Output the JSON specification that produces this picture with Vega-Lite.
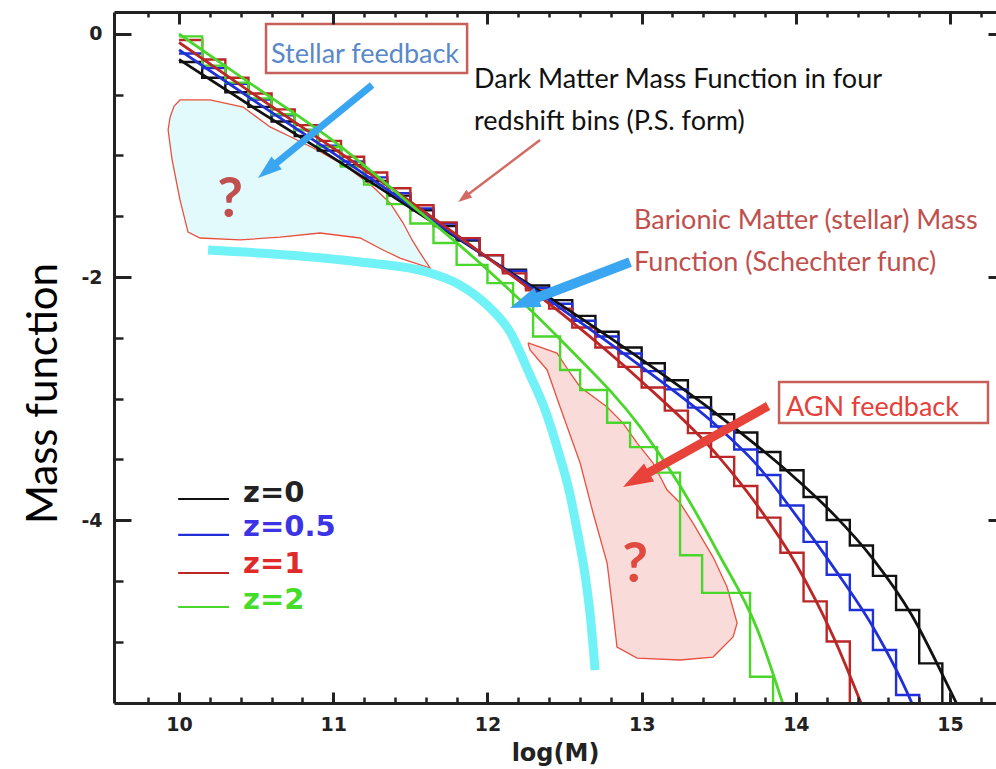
{
"$schema":"https://vega.github.io/schema/vega-lite/v6.json",
"width":882,"height":691,"autosize":"none",
"padding":{"left":114,"top":12,"right":0,"bottom":66},
"background":"#ffffff",
"config":{"view":{"stroke":null},"axis":{"grid":false}},
"datasets":{
"stellar":[{"i":0,"x":9.942,"y":-0.683},{"i":1,"x":9.968,"y":-0.593},{"i":2,"x":10.006,"y":-0.543},{"i":3,"x":10.201,"y":-0.543},{"i":4,"x":10.415,"y":-0.601},{"i":5,"x":10.59,"y":-0.765},{"i":6,"x":10.739,"y":-0.856},{"i":7,"x":10.895,"y":-0.955},{"i":8,"x":11.089,"y":-1.095},{"i":9,"x":11.258,"y":-1.259},{"i":10,"x":11.368,"y":-1.391},{"i":11,"x":11.453,"y":-1.556},{"i":12,"x":11.511,"y":-1.695},{"i":13,"x":11.563,"y":-1.802},{"i":14,"x":11.628,"y":-1.926},{"i":15,"x":11.433,"y":-1.844},{"i":16,"x":11.323,"y":-1.778},{"i":17,"x":11.174,"y":-1.679},{"i":18,"x":10.914,"y":-1.638},{"i":19,"x":10.655,"y":-1.671},{"i":20,"x":10.396,"y":-1.695},{"i":21,"x":10.136,"y":-1.679},{"i":22,"x":10.058,"y":-1.63},{"i":23,"x":10.006,"y":-1.366},{"i":24,"x":9.955,"y":-1.037},{"i":25,"x":9.929,"y":-0.79},{"i":26,"x":9.942,"y":-0.683}],
"agn":[{"i":0,"x":12.263,"y":-2.543},{"i":1,"x":12.451,"y":-2.626},{"i":2,"x":12.536,"y":-2.79},{"i":3,"x":12.601,"y":-2.905},{"i":4,"x":12.776,"y":-3.07},{"i":5,"x":12.879,"y":-3.202},{"i":6,"x":12.97,"y":-3.366},{"i":7,"x":13.074,"y":-3.531},{"i":8,"x":13.165,"y":-3.753},{"i":9,"x":13.249,"y":-3.86},{"i":10,"x":13.333,"y":-4.025},{"i":11,"x":13.463,"y":-4.305},{"i":12,"x":13.554,"y":-4.551},{"i":13,"x":13.619,"y":-4.848},{"i":14,"x":13.593,"y":-4.963},{"i":15,"x":13.463,"y":-5.128},{"i":16,"x":13.249,"y":-5.152},{"i":17,"x":12.97,"y":-5.136},{"i":18,"x":12.84,"y":-5.045},{"i":19,"x":12.815,"y":-4.765},{"i":20,"x":12.776,"y":-4.354},{"i":21,"x":12.685,"y":-3.942},{"i":22,"x":12.601,"y":-3.531},{"i":23,"x":12.471,"y":-3.07},{"i":24,"x":12.387,"y":-2.765},{"i":25,"x":12.276,"y":-2.601},{"i":26,"x":12.263,"y":-2.543}],
"cyan":[{"x":10.188,"y":-1.778},{"x":10.785,"y":-1.827},{"x":11.174,"y":-1.877},{"x":11.608,"y":-1.959},{"x":11.822,"y":-2.066},{"x":11.997,"y":-2.23},{"x":12.147,"y":-2.453},{"x":12.276,"y":-2.807},{"x":12.374,"y":-3.095},{"x":12.451,"y":-3.399},{"x":12.536,"y":-3.794},{"x":12.581,"y":-4.082},{"x":12.633,"y":-4.453},{"x":12.665,"y":-4.765},{"x":12.698,"y":-5.235}],
"curves":[
{"s":"z0","x":10.0,"y":-0.21},{"s":"z0","x":10.5,"y":-0.62},{"s":"z0","x":11.0,"y":-1.02},{"s":"z0","x":11.5,"y":-1.43},{"s":"z0","x":12.0,"y":-1.84},{"s":"z0","x":12.5,"y":-2.25},{"s":"z0","x":13.0,"y":-2.68},{"s":"z0","x":13.5,"y":-3.14},{"s":"z0","x":14.0,"y":-3.66},{"s":"z0","x":14.25,"y":-3.96},{"s":"z0","x":14.5,"y":-4.32},{"s":"z0","x":14.75,"y":-4.78},{"s":"z0","x":15.0,"y":-5.4},{"s":"z0","x":15.05,"y":-5.53},
{"s":"z05","x":10.0,"y":-0.13},{"s":"z05","x":10.5,"y":-0.56},{"s":"z05","x":11.0,"y":-0.98},{"s":"z05","x":11.5,"y":-1.41},{"s":"z05","x":12.0,"y":-1.84},{"s":"z05","x":12.5,"y":-2.28},{"s":"z05","x":13.0,"y":-2.74},{"s":"z05","x":13.5,"y":-3.24},{"s":"z05","x":13.75,"y":-3.55},{"s":"z05","x":14.0,"y":-3.96},{"s":"z05","x":14.25,"y":-4.4},{"s":"z05","x":14.5,"y":-4.88},{"s":"z05","x":14.75,"y":-5.5},{"s":"z05","x":14.76,"y":-5.53},
{"s":"z1","x":10.0,"y":-0.07},{"s":"z1","x":10.5,"y":-0.51},{"s":"z1","x":11.0,"y":-0.94},{"s":"z1","x":11.5,"y":-1.38},{"s":"z1","x":12.0,"y":-1.84},{"s":"z1","x":12.5,"y":-2.32},{"s":"z1","x":13.0,"y":-2.86},{"s":"z1","x":13.5,"y":-3.48},{"s":"z1","x":13.75,"y":-3.88},{"s":"z1","x":14.0,"y":-4.36},{"s":"z1","x":14.25,"y":-4.98},{"s":"z1","x":14.43,"y":-5.53},
{"s":"z2","x":10.0,"y":0.0},{"s":"z2","x":10.5,"y":-0.44},{"s":"z2","x":11.0,"y":-0.88},{"s":"z2","x":11.5,"y":-1.4},{"s":"z2","x":12.0,"y":-1.94},{"s":"z2","x":12.5,"y":-2.55},{"s":"z2","x":13.0,"y":-3.25},{"s":"z2","x":13.25,"y":-3.72},{"s":"z2","x":13.5,"y":-4.28},{"s":"z2","x":13.75,"y":-4.9},{"s":"z2","x":13.92,"y":-5.53}
],
"hist":[
{"s":"z0","x":10.0,"y":-0.23},{"s":"z0","x":10.15,"y":-0.36},{"s":"z0","x":10.3,"y":-0.48},{"s":"z0","x":10.45,"y":-0.6},{"s":"z0","x":10.6,"y":-0.72},{"s":"z0","x":10.75,"y":-0.84},{"s":"z0","x":10.9,"y":-0.96},{"s":"z0","x":11.05,"y":-1.08},{"s":"z0","x":11.2,"y":-1.21},{"s":"z0","x":11.35,"y":-1.33},{"s":"z0","x":11.5,"y":-1.45},{"s":"z0","x":11.65,"y":-1.58},{"s":"z0","x":11.8,"y":-1.7},{"s":"z0","x":11.95,"y":-1.82},{"s":"z0","x":12.1,"y":-1.94},{"s":"z0","x":12.25,"y":-2.07},{"s":"z0","x":12.4,"y":-2.19},{"s":"z0","x":12.55,"y":-2.32},{"s":"z0","x":12.7,"y":-2.45},{"s":"z0","x":12.85,"y":-2.58},{"s":"z0","x":13.0,"y":-2.71},{"s":"z0","x":13.15,"y":-2.85},{"s":"z0","x":13.3,"y":-2.99},{"s":"z0","x":13.45,"y":-3.13},{"s":"z0","x":13.6,"y":-3.28},{"s":"z0","x":13.75,"y":-3.44},{"s":"z0","x":13.9,"y":-3.59},{"s":"z0","x":14.05,"y":-3.81},{"s":"z0","x":14.2,"y":-4.0},{"s":"z0","x":14.35,"y":-4.21},{"s":"z0","x":14.5,"y":-4.46},{"s":"z0","x":14.65,"y":-4.74},{"s":"z0","x":14.8,"y":-5.18},{"s":"z0","x":14.95,"y":-6.0},
{"s":"z05","x":10.0,"y":-0.16},{"s":"z05","x":10.15,"y":-0.28},{"s":"z05","x":10.3,"y":-0.41},{"s":"z05","x":10.45,"y":-0.54},{"s":"z05","x":10.6,"y":-0.67},{"s":"z05","x":10.75,"y":-0.79},{"s":"z05","x":10.9,"y":-0.92},{"s":"z05","x":11.05,"y":-1.05},{"s":"z05","x":11.2,"y":-1.18},{"s":"z05","x":11.35,"y":-1.31},{"s":"z05","x":11.5,"y":-1.435},{"s":"z05","x":11.65,"y":-1.56},{"s":"z05","x":11.8,"y":-1.69},{"s":"z05","x":11.95,"y":-1.82},{"s":"z05","x":12.1,"y":-1.95},{"s":"z05","x":12.25,"y":-2.09},{"s":"z05","x":12.4,"y":-2.22},{"s":"z05","x":12.55,"y":-2.36},{"s":"z05","x":12.7,"y":-2.49},{"s":"z05","x":12.85,"y":-2.63},{"s":"z05","x":13.0,"y":-2.775},{"s":"z05","x":13.15,"y":-2.925},{"s":"z05","x":13.3,"y":-3.075},{"s":"z05","x":13.45,"y":-3.23},{"s":"z05","x":13.6,"y":-3.42},{"s":"z05","x":13.75,"y":-3.63},{"s":"z05","x":13.9,"y":-3.88},{"s":"z05","x":14.05,"y":-4.18},{"s":"z05","x":14.2,"y":-4.45},{"s":"z05","x":14.35,"y":-4.74},{"s":"z05","x":14.5,"y":-5.07},{"s":"z05","x":14.65,"y":-5.44},{"s":"z05","x":14.8,"y":-6.0},
{"s":"z1","x":10.0,"y":-0.05},{"s":"z1","x":10.15,"y":-0.21},{"s":"z1","x":10.3,"y":-0.36},{"s":"z1","x":10.45,"y":-0.49},{"s":"z1","x":10.6,"y":-0.62},{"s":"z1","x":10.75,"y":-0.75},{"s":"z1","x":10.9,"y":-0.88},{"s":"z1","x":11.05,"y":-1.01},{"s":"z1","x":11.2,"y":-1.14},{"s":"z1","x":11.35,"y":-1.27},{"s":"z1","x":11.5,"y":-1.41},{"s":"z1","x":11.65,"y":-1.55},{"s":"z1","x":11.8,"y":-1.68},{"s":"z1","x":11.95,"y":-1.82},{"s":"z1","x":12.1,"y":-1.97},{"s":"z1","x":12.25,"y":-2.11},{"s":"z1","x":12.4,"y":-2.26},{"s":"z1","x":12.55,"y":-2.415},{"s":"z1","x":12.7,"y":-2.58},{"s":"z1","x":12.85,"y":-2.74},{"s":"z1","x":13.0,"y":-2.91},{"s":"z1","x":13.15,"y":-3.1},{"s":"z1","x":13.3,"y":-3.285},{"s":"z1","x":13.45,"y":-3.48},{"s":"z1","x":13.6,"y":-3.72},{"s":"z1","x":13.75,"y":-3.98},{"s":"z1","x":13.9,"y":-4.27},{"s":"z1","x":14.05,"y":-4.67},{"s":"z1","x":14.2,"y":-5.0},{"s":"z1","x":14.35,"y":-6.0},
{"s":"z2","x":10.0,"y":-0.02},{"s":"z2","x":10.15,"y":-0.26},{"s":"z2","x":10.3,"y":-0.4},{"s":"z2","x":10.45,"y":-0.53},{"s":"z2","x":10.6,"y":-0.66},{"s":"z2","x":10.75,"y":-0.79},{"s":"z2","x":10.9,"y":-0.93},{"s":"z2","x":11.05,"y":-1.09},{"s":"z2","x":11.2,"y":-1.24},{"s":"z2","x":11.35,"y":-1.4},{"s":"z2","x":11.5,"y":-1.56},{"s":"z2","x":11.65,"y":-1.72},{"s":"z2","x":11.8,"y":-1.9},{"s":"z2","x":12.0,"y":-2.05},{"s":"z2","x":12.166,"y":-2.23},{"s":"z2","x":12.296,"y":-2.49},{"s":"z2","x":12.471,"y":-2.765},{"s":"z2","x":12.601,"y":-2.93},{"s":"z2","x":12.776,"y":-3.2},{"s":"z2","x":12.925,"y":-3.4},{"s":"z2","x":13.1,"y":-3.61},{"s":"z2","x":13.249,"y":-4.29},{"s":"z2","x":13.392,"y":-4.6},{"s":"z2","x":13.703,"y":-5.29},{"s":"z2","x":13.852,"y":-6.0}
],
"legend":[{"s":"z0","t":"z=0","x":9.994,"x2":10.324,"y":-3.827,"tx":10.415,"ty":-3.778},{"s":"z05","t":"z=0.5","x":9.994,"x2":10.324,"y":-4.123,"tx":10.415,"ty":-4.058},{"s":"z1","t":"z=1","x":9.994,"x2":10.324,"y":-4.436,"tx":10.415,"ty":-4.362},{"s":"z2","t":"z=2","x":9.994,"x2":10.324,"y":-4.716,"tx":10.415,"ty":-4.658}]
},
"layer":[
{"data":{"name":"stellar"},"mark":{"type":"line","fill":"#e2fafc","stroke":"#e8503f","strokeWidth":1.3,"clip":true},
 "encoding":{"x":{"field":"x","type":"quantitative","scale":{"domain":[9.578,15.298],"nice":false,"zero":false},"axis":null},"y":{"field":"y","type":"quantitative","scale":{"domain":[-5.506,0.181],"nice":false,"zero":false},"axis":null},"order":{"field":"i","type":"quantitative"}}},
{"data":{"name":"agn"},"mark":{"type":"line","fill":"#f9dcda","stroke":"#e8503f","strokeWidth":1.3,"clip":true},
 "encoding":{"x":{"field":"x","type":"quantitative","scale":{"domain":[9.578,15.298],"nice":false,"zero":false},"axis":null},"y":{"field":"y","type":"quantitative","scale":{"domain":[-5.506,0.181],"nice":false,"zero":false},"axis":null},"order":{"field":"i","type":"quantitative"}}},
{"data":{"name":"cyan"},"mark":{"type":"line","color":"#70f2f6","strokeWidth":9,"interpolate":"monotone","strokeCap":"butt","clip":true},
 "encoding":{
  "x":{"field":"x","type":"quantitative","scale":{"domain":[9.578,15.298],"nice":false,"zero":false},
   "axis":{"orient":"bottom","values":[10,11,12,13,14,15],"tickSize":-11,"tickWidth":3,"tickColor":"#222222","domainColor":"#222222","domainWidth":3,"labelFont":"DejaVu Sans","labelFontWeight":"bold","labelFontSize":19,"labelColor":"#222222","labelPadding":23,"labelFlush":false,"labelOverlap":false,"title":"log(M)","titleFont":"DejaVu Sans","titleFontWeight":"bold","titleFontSize":24,"titleColor":"#222222","titleBaseline":"alphabetic","titleAlign":"center","titleX":441,"titleY":57,"zindex":1}},
  "y":{"field":"y","type":"quantitative","scale":{"domain":[-5.506,0.181],"nice":false,"zero":false},
   "axis":{"orient":"left","values":[0,-2,-4],"tickSize":-17,"tickWidth":3,"tickColor":"#222222","domainColor":"#222222","domainWidth":3,"labelFont":"DejaVu Sans","labelFontWeight":"bold","labelFontSize":19,"labelColor":"#222222","labelPadding":29,"labelFlush":false,"labelOverlap":false,"labelExpr":"datum.value < 0 ? '-' + abs(datum.value) : '' + datum.value","title":"Mass function","titleFont":"Lato","titleFontWeight":"normal","titleFontSize":42,"titleColor":"#000000","titleAngle":-90,"titleBaseline":"alphabetic","titleAlign":"center","titleX":-58,"titleY":381,"zindex":1}}}},
{"data":{"name":"hist"},"mark":{"type":"line","interpolate":"step-after","strokeWidth":2.4,"clip":true},
 "encoding":{
  "x":{"field":"x","type":"quantitative","scale":{"domain":[9.578,15.298],"nice":false,"zero":false},
   "axis":{"orient":"top","values":[10,11,12,13,14,15],"tickSize":-12,"tickWidth":3,"tickColor":"#222222","domainColor":"#222222","domainWidth":3,"labels":false,"title":null,"zindex":1}},
  "y":{"field":"y","type":"quantitative","scale":{"domain":[-5.506,0.181],"nice":false,"zero":false},
   "axis":{"orient":"right","values":[0,-2,-4],"tickSize":-8,"tickWidth":3,"tickColor":"#222222","domain":false,"labels":false,"title":null,"zindex":1}},
  "color":{"field":"s","type":"nominal","scale":{"domain":["z0","z05","z1","z2"],"range":["#111111","#2030d8","#bb2626","#4ad62a"]},"legend":null}}},
{"data":{"name":"curves"},"mark":{"type":"line","interpolate":"monotone","strokeWidth":2.8,"clip":true},
 "encoding":{
  "x":{"field":"x","type":"quantitative","scale":{"domain":[9.578,15.298],"nice":false,"zero":false},
   "axis":{"orient":"bottom","values":[9.8,10.2,10.4,10.6,10.8,11.2,11.4,11.6,11.8,12.2,12.4,12.6,12.8,13.2,13.4,13.6,13.8,14.2,14.4,14.6,14.8,15.2],"tickSize":-6,"tickWidth":2.5,"tickColor":"#222222","domain":false,"labels":false,"title":null,"zindex":1}},
  "y":{"field":"y","type":"quantitative","scale":{"domain":[-5.506,0.181],"nice":false,"zero":false},
   "axis":{"orient":"left","values":[-0.5,-1,-1.5,-2.5,-3,-3.5,-4.5,-5],"tickSize":-9,"tickWidth":2.5,"tickColor":"#222222","domain":false,"labels":false,"title":null,"zindex":1}},
  "color":{"field":"s","type":"nominal","scale":{"domain":["z0","z05","z1","z2"],"range":["#111111","#2030d8","#bb2626","#4ad62a"]},"legend":null}}},
{"data":{"name":"legend"},"mark":{"type":"rule","strokeWidth":2.2},
 "encoding":{
  "x":{"field":"x","type":"quantitative","scale":{"domain":[9.578,15.298],"nice":false,"zero":false},
   "axis":{"orient":"top","values":[9.8,10.2,10.4,10.6,10.8,11.2,11.4,11.6,11.8,12.2,12.4,12.6,12.8,13.2,13.4,13.6,13.8,14.2,14.4,14.6,14.8,15.2],"tickSize":-5,"tickWidth":2.5,"tickColor":"#222222","domain":false,"labels":false,"title":null,"zindex":1}},
  "x2":{"field":"x2"},
  "y":{"field":"y","type":"quantitative","scale":{"domain":[-5.506,0.181],"nice":false,"zero":false},"axis":null},
  "color":{"field":"s","type":"nominal","scale":{"domain":["z0","z05","z1","z2"],"range":["#111111","#2030d8","#bb2626","#4ad62a"]},"legend":null}}},
{"data":{"name":"legend"},"mark":{"type":"text","font":"DejaVu Sans","fontWeight":"bold","fontSize":29,"align":"left","baseline":"middle"},
 "encoding":{
  "x":{"field":"tx","type":"quantitative","scale":{"domain":[9.578,15.298],"nice":false,"zero":false},"axis":null},
  "y":{"field":"ty","type":"quantitative","scale":{"domain":[-5.506,0.181],"nice":false,"zero":false},"axis":null},
  "text":{"field":"t"},
  "fill":{"field":"s","type":"nominal","scale":{"domain":["z0","z05","z1","z2"],"range":["#222222","#3c32e6","#e02a2a","#46dc2a"]},"legend":null}}},
{"data":{"values":[{"x":11.252,"y":-0.42,"x2":10.579,"y2":-1.116}]},"mark":{"type":"rule","color":"#3aa5f0","strokeWidth":7,"strokeCap":"butt"},
 "encoding":{"x":{"field":"x","type":"quantitative","scale":{"domain":[9.578,15.298],"nice":false,"zero":false},"axis":null},"y":{"field":"y","type":"quantitative","scale":{"domain":[-5.506,0.181],"nice":false,"zero":false},"axis":null},"x2":{"field":"x2"},"y2":{"field":"y2"}}},
{"data":{"values":[{"x":10.579,"y":-1.116}]},"mark":{"type":"point","shape":"M0,-1L0.62,0.8L-0.62,0.8Z","filled":true,"opacity":1,"color":"#3aa5f0","size":710,"angle":231},
 "encoding":{"x":{"field":"x","type":"quantitative","scale":{"domain":[9.578,15.298],"nice":false,"zero":false},"axis":null},"y":{"field":"y","type":"quantitative","scale":{"domain":[-5.506,0.181],"nice":false,"zero":false},"axis":null}}},
{"data":{"values":[{"x":12.925,"y":-1.877,"x2":12.247,"y2":-2.207}]},"mark":{"type":"rule","color":"#3aa5f0","strokeWidth":10,"strokeCap":"butt"},
 "encoding":{"x":{"field":"x","type":"quantitative","scale":{"domain":[9.578,15.298],"nice":false,"zero":false},"axis":null},"y":{"field":"y","type":"quantitative","scale":{"domain":[-5.506,0.181],"nice":false,"zero":false},"axis":null},"x2":{"field":"x2"},"y2":{"field":"y2"}}},
{"data":{"values":[{"x":12.247,"y":-2.207}]},"mark":{"type":"point","shape":"M0,-1L0.62,0.8L-0.62,0.8Z","filled":true,"opacity":1,"color":"#3aa5f0","size":1100,"angle":249},
 "encoding":{"x":{"field":"x","type":"quantitative","scale":{"domain":[9.578,15.298],"nice":false,"zero":false},"axis":null},"y":{"field":"y","type":"quantitative","scale":{"domain":[-5.506,0.181],"nice":false,"zero":false},"axis":null}}},
{"data":{"values":[{"x":13.82,"y":-3.062,"x2":12.973,"y2":-3.662}]},"mark":{"type":"rule","color":"#e8433a","strokeWidth":9,"strokeCap":"butt"},
 "encoding":{"x":{"field":"x","type":"quantitative","scale":{"domain":[9.578,15.298],"nice":false,"zero":false},"axis":null},"y":{"field":"y","type":"quantitative","scale":{"domain":[-5.506,0.181],"nice":false,"zero":false},"axis":null},"x2":{"field":"x2"},"y2":{"field":"y2"}}},
{"data":{"values":[{"x":12.973,"y":-3.662}]},"mark":{"type":"point","shape":"M0,-1L0.62,0.8L-0.62,0.8Z","filled":true,"opacity":1,"color":"#e8433a","size":1100,"angle":240.8},
 "encoding":{"x":{"field":"x","type":"quantitative","scale":{"domain":[9.578,15.298],"nice":false,"zero":false},"axis":null},"y":{"field":"y","type":"quantitative","scale":{"domain":[-5.506,0.181],"nice":false,"zero":false},"axis":null}}},
{"data":{"values":[{"x":12.341,"y":-0.872,"x2":11.85,"y2":-1.344}]},"mark":{"type":"rule","color":"#d36b64","strokeWidth":2.5,"strokeCap":"butt"},
 "encoding":{"x":{"field":"x","type":"quantitative","scale":{"domain":[9.578,15.298],"nice":false,"zero":false},"axis":null},"y":{"field":"y","type":"quantitative","scale":{"domain":[-5.506,0.181],"nice":false,"zero":false},"axis":null},"x2":{"field":"x2"},"y2":{"field":"y2"}}},
{"data":{"values":[{"x":11.85,"y":-1.344}]},"mark":{"type":"point","shape":"M0,-1L0.62,0.8L-0.62,0.8Z","filled":true,"opacity":1,"color":"#d36b64","size":240,"angle":232.9},
 "encoding":{"x":{"field":"x","type":"quantitative","scale":{"domain":[9.578,15.298],"nice":false,"zero":false},"axis":null},"y":{"field":"y","type":"quantitative","scale":{"domain":[-5.506,0.181],"nice":false,"zero":false},"axis":null}}},
{"data":{"values":[{"x":10.564,"x2":11.868,"y":0.082,"y2":-0.321},{"x":13.891,"x2":15.246,"y":-2.864,"y2":-3.202}]},"mark":{"type":"rect","fill":"#ffffff","stroke":"#c8605a","strokeWidth":2.5},
 "encoding":{"x":{"field":"x","type":"quantitative","scale":{"domain":[9.578,15.298],"nice":false,"zero":false},"axis":null},"y":{"field":"y","type":"quantitative","scale":{"domain":[-5.506,0.181],"nice":false,"zero":false},"axis":null},"x2":{"field":"x2"},"y2":{"field":"y2"}}},
{"data":{"values":[{"t":"Dark Matter Mass Function in four","x":11.913,"y":-0.444},{"t":"redshift bins (P.S. form)","x":11.913,"y":-0.79}]},"mark":{"type":"text","font":"Lato","fontSize":27,"align":"left","baseline":"alphabetic","color":"#111111"},
 "encoding":{"x":{"field":"x","type":"quantitative","scale":{"domain":[9.578,15.298],"nice":false,"zero":false},"axis":null},"y":{"field":"y","type":"quantitative","scale":{"domain":[-5.506,0.181],"nice":false,"zero":false},"axis":null},"text":{"field":"t"}}},
{"data":{"values":[{"t":"Barionic Matter (stellar) Mass","x":12.951,"y":-1.605},{"t":"Function (Schechter func)","x":12.951,"y":-1.951}]},"mark":{"type":"text","font":"Lato","fontSize":27,"align":"left","baseline":"alphabetic","color":"#c0504d"},
 "encoding":{"x":{"field":"x","type":"quantitative","scale":{"domain":[9.578,15.298],"nice":false,"zero":false},"axis":null},"y":{"field":"y","type":"quantitative","scale":{"domain":[-5.506,0.181],"nice":false,"zero":false},"axis":null},"text":{"field":"t"}}},
{"data":{"values":[{"t":"Stellar feedback","x":11.206,"y":-0.239}]},"mark":{"type":"text","font":"Lato","fontSize":27,"align":"center","baseline":"alphabetic","color":"#5a88c8"},
 "encoding":{"x":{"field":"x","type":"quantitative","scale":{"domain":[9.578,15.298],"nice":false,"zero":false},"axis":null},"y":{"field":"y","type":"quantitative","scale":{"domain":[-5.506,0.181],"nice":false,"zero":false},"axis":null},"text":{"field":"t"}}},
{"data":{"values":[{"t":"AGN feedback","x":14.497,"y":-3.144}]},"mark":{"type":"text","font":"Lato","fontSize":27,"align":"center","baseline":"alphabetic","color":"#e5403a"},
 "encoding":{"x":{"field":"x","type":"quantitative","scale":{"domain":[9.578,15.298],"nice":false,"zero":false},"axis":null},"y":{"field":"y","type":"quantitative","scale":{"domain":[-5.506,0.181],"nice":false,"zero":false},"axis":null},"text":{"field":"t"}}},
{"data":{"values":[{"t":"?","x":10.331,"y":-1.506}]},"mark":{"type":"text","font":"Lato","fontWeight":"bold","fontSize":56,"align":"center","baseline":"alphabetic","color":"#c0504d"},
 "encoding":{"x":{"field":"x","type":"quantitative","scale":{"domain":[9.578,15.298],"nice":false,"zero":false},"axis":null},"y":{"field":"y","type":"quantitative","scale":{"domain":[-5.506,0.181],"nice":false,"zero":false},"axis":null},"text":{"field":"t"}}},
{"data":{"values":[{"t":"?","x":12.957,"y":-4.51}]},"mark":{"type":"text","font":"Lato","fontWeight":"bold","fontSize":56,"align":"center","baseline":"alphabetic","color":"#e04a3f"},
 "encoding":{"x":{"field":"x","type":"quantitative","scale":{"domain":[9.578,15.298],"nice":false,"zero":false},"axis":null},"y":{"field":"y","type":"quantitative","scale":{"domain":[-5.506,0.181],"nice":false,"zero":false},"axis":null},"text":{"field":"t"}}}
],
"resolve":{"axis":{"x":"independent","y":"independent"}}
}
